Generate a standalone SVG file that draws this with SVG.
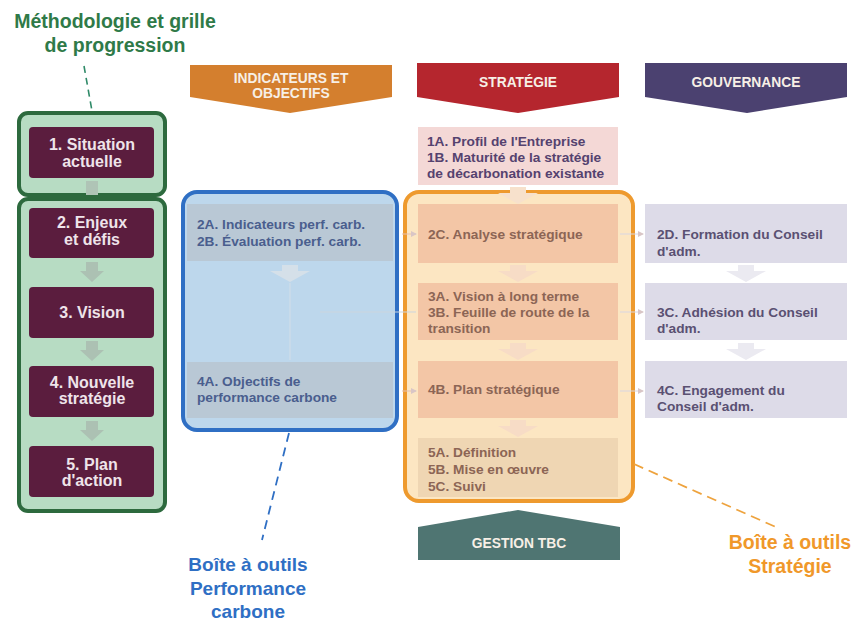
<svg xmlns="http://www.w3.org/2000/svg" width="853" height="621" viewBox="0 0 853 621">
<defs>
<style>
text{font-family:"Liberation Sans",Arial,sans-serif;font-weight:bold}
.plum{fill:#5b1d3e}
.ptx{fill:#efe4ea;font-size:16px;text-anchor:middle}
.hdr{fill:#f7efe6;font-size:13.8px;text-anchor:middle}
.pink{fill:#f4d8d6}
.sal{fill:#f3c6a6}
.beige{fill:#efd6b3}
.lav{fill:#dddbe8}
.band{fill:#b9c8d5}
.t1{fill:#55426f;font-size:13.7px}
.t2{fill:#8c6555;font-size:13.7px}
.t3{fill:#5a5072;font-size:13.7px}
.t4{fill:#4a5e8e;font-size:13.7px}
.conn{stroke-width:1;fill:none}
</style>
<path id="darr" d="M-8,0 H8 V6 H20 L0,17 L-20,6 H-8 Z"/>
<path id="garr" d="M-6,0 H6 V9 H12 L0,20 L-12,9 H-6 Z"/>
<marker id="tip" markerWidth="6" markerHeight="6" refX="5" refY="3" orient="auto" markerUnits="userSpaceOnUse"><path d="M0,0 L6,3 L0,6 Z" fill="#d9c6c6"/></marker>
</defs>
<rect width="853" height="621" fill="#ffffff"/>

<!-- Title -->
<g id="title-methodo">
<text x="115" y="28" fill="#2f7a48" font-size="19.5" text-anchor="middle">Méthodologie et grille</text>
<text x="115" y="52" fill="#2f7a48" font-size="19.5" text-anchor="middle">de progression</text>
</g>

<!-- Left column -->
<g id="col-methodo">
<rect x="19" y="113" width="146" height="82" rx="9" fill="#b7dcc3" stroke="#2d6a3e" stroke-width="4"/>
<rect x="19" y="199" width="146" height="312" rx="9" fill="#b7dcc3" stroke="#2d6a3e" stroke-width="4"/>
<rect x="86" y="181" width="12" height="14" fill="#afc4b6"/>
<use href="#garr" x="92" y="262" fill="#acc1b3"/>
<use href="#garr" x="92" y="341" fill="#acc1b3"/>
<use href="#garr" x="92" y="421" fill="#acc1b3"/>
</g>
<g id="step1"><rect class="plum" x="29" y="127" width="125" height="51" rx="4"/><text class="ptx" x="92" y="150">1. Situation</text><text class="ptx" x="92" y="167">actuelle</text></g>
<g id="step2"><rect class="plum" x="29" y="208" width="125" height="50" rx="4"/><text class="ptx" x="92" y="228">2. Enjeux</text><text class="ptx" x="92" y="245">et défis</text></g>
<g id="step3"><rect class="plum" x="29" y="287" width="125" height="51" rx="4"/><text class="ptx" x="92" y="318">3. Vision</text></g>
<g id="step4"><rect class="plum" x="29" y="366" width="125" height="51" rx="4"/><text class="ptx" x="92" y="388">4. Nouvelle</text><text class="ptx" x="92" y="404">stratégie</text></g>
<g id="step5"><rect class="plum" x="29" y="446" width="125" height="51" rx="4"/><text class="ptx" x="92" y="470">5. Plan</text><text class="ptx" x="92" y="486">d'action</text></g>

<!-- Headers -->
<g id="hdr-indic">
<polygon points="190,65 392,65 392,97 290,113 190,97" fill="#d47f2e"/>
<text class="hdr" x="291" y="83">INDICATEURS ET</text>
<text class="hdr" x="291" y="98">OBJECTIFS</text>
</g>
<g id="hdr-strat">
<polygon points="417,63 619,63 619,97 518,113 417,97" fill="#b5262e"/>
<text class="hdr" x="518" y="87">STRATÉGIE</text>
</g>
<g id="hdr-gouv">
<polygon points="645,63 847,63 847,97 747,113 645,97" fill="#4b4170"/>
<text class="hdr" x="746" y="87">GOUVERNANCE</text>
</g>
<g id="hdr-gestion">
<polygon points="418,527 518,510 620,527 620,560 418,560" fill="#4f7572"/>
<text class="hdr" x="519" y="548">GESTION TBC</text>
</g>

<!-- Blue toolbox -->
<g id="box-performance">
<rect x="183" y="192" width="214" height="238" rx="14" fill="#bdd7ec" stroke="#2f6fc4" stroke-width="4"/>
<rect class="band" x="187" y="204" width="206" height="57"/>
<rect class="band" x="187" y="362" width="206" height="56"/>
</g>
<g id="n2a"><text class="t4" x="197" y="229">2A. Indicateurs perf. carb.</text><text class="t4" x="197" y="246">2B. Évaluation perf. carb.</text></g>
<g id="n4a"><text class="t4" x="197" y="386">4A. Objectifs de</text><text class="t4" x="197" y="402">performance carbone</text></g>

<!-- Orange toolbox -->
<g id="box-strategie">
<rect x="405" y="192" width="228" height="309" rx="14" fill="#fce6c2" stroke="#ee9a2e" stroke-width="4"/>
</g>
<g id="n1a"><rect class="pink" x="418" y="127" width="200" height="58"/><text class="t1" x="427" y="146">1A. Profil de l'Entreprise</text><text class="t1" x="427" y="162">1B. Maturité de la stratégie</text><text class="t1" x="427" y="178">de décarbonation existante</text></g>
<g id="n2c"><rect class="sal" x="418" y="204" width="200" height="59"/><text class="t2" x="428" y="239">2C. Analyse stratégique</text></g>
<g id="n3a"><rect class="sal" x="418" y="283" width="200" height="57"/><text class="t2" x="428" y="301">3A. Vision à long terme</text><text class="t2" x="428" y="317">3B. Feuille de route de la</text><text class="t2" x="428" y="333">transition</text></g>
<g id="n4b"><rect class="sal" x="418" y="361" width="200" height="57"/><text class="t2" x="428" y="394">4B. Plan stratégique</text></g>
<g id="n5a"><rect class="beige" x="418" y="438" width="200" height="59"/><text class="t2" x="428" y="457">5A. Définition</text><text class="t2" x="428" y="474">5B. Mise en œuvre</text><text class="t2" x="428" y="491">5C. Suivi</text></g>

<!-- Governance -->
<g id="n2d"><rect class="lav" x="645" y="204" width="202" height="59"/><text class="t3" x="657" y="239">2D. Formation du Conseil</text><text class="t3" x="657" y="256">d'adm.</text></g>
<g id="n3c"><rect class="lav" x="645" y="283" width="202" height="57"/><text class="t3" x="657" y="317">3C. Adhésion du Conseil</text><text class="t3" x="657" y="333">d'adm.</text></g>
<g id="n4c"><rect class="lav" x="645" y="361" width="202" height="57"/><text class="t3" x="657" y="395">4C. Engagement du</text><text class="t3" x="657" y="411">Conseil d'adm.</text></g>

<!-- Connectors -->
<g id="connectors">
<use href="#darr" x="518" y="187" fill="#f7e1cc"/>
<use href="#darr" x="518" y="265" fill="#f7dcc6"/>
<use href="#darr" x="518" y="343" fill="#f7dcc6"/>
<use href="#darr" x="518" y="420" fill="#f7dcc6"/>
<use href="#darr" x="746" y="265" fill="#ebeaf1"/>
<use href="#darr" x="746" y="343" fill="#ebeaf1"/>
<use href="#darr" x="290" y="265" fill="#d5e0e9"/>
<line class="conn" x1="290" y1="283" x2="290" y2="360" stroke="#d3dee8"/>
<line class="conn" x1="320" y1="312" x2="416" y2="312" stroke="#cbd5de"/>
<line class="conn" x1="402" y1="234" x2="416" y2="234" stroke="#e5c0b0" marker-end="url(#tip)"/>
<line class="conn" x1="402" y1="391" x2="416" y2="391" stroke="#e5c0b0" marker-end="url(#tip)"/>
<line class="conn" x1="620" y1="234" x2="643" y2="234" stroke="#d8d6e2" marker-end="url(#tip)"/>
<line class="conn" x1="620" y1="312" x2="643" y2="312" stroke="#d8d6e2" marker-end="url(#tip)"/>
<line class="conn" x1="620" y1="391" x2="643" y2="391" stroke="#d8d6e2" marker-end="url(#tip)"/>
<line x1="84" y1="66" x2="92" y2="111" stroke="#2f8a68" stroke-width="1.6" stroke-dasharray="7,5"/>
<line x1="289" y1="433" x2="262" y2="540" stroke="#2f6fc4" stroke-width="1.8" stroke-dasharray="9,6"/>
<line x1="634" y1="464" x2="778" y2="528" stroke="#eea33e" stroke-width="1.8" stroke-dasharray="10,6"/>
</g>

<!-- Toolbox labels -->
<g id="label-performance">
<text x="248" y="571" fill="#2f6fc4" font-size="19" text-anchor="middle">Boîte à outils</text>
<text x="248" y="595" fill="#2f6fc4" font-size="19" text-anchor="middle">Performance</text>
<text x="248" y="618" fill="#2f6fc4" font-size="19" text-anchor="middle">carbone</text>
</g>
<g id="label-strategie">
<text x="790" y="549" fill="#f0982a" font-size="19.5" text-anchor="middle">Boîte à outils</text>
<text x="790" y="573" fill="#f0982a" font-size="19.5" text-anchor="middle">Stratégie</text>
</g>
</svg>
